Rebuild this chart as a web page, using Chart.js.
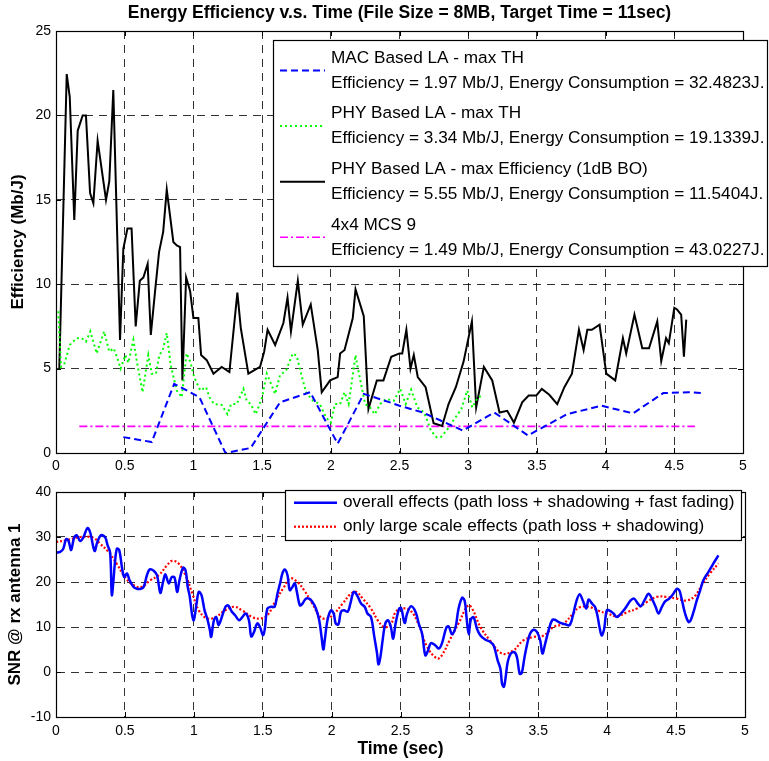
<!DOCTYPE html>
<html><head><meta charset="utf-8">
<script src="https://cdn.jsdelivr.net/npm/chart.js@4.4.0/dist/chart.umd.min.js"></script>
<style>
html,body{margin:0;padding:0;background:#fff;overflow:hidden;}
#w1{position:absolute;left:0;top:0;width:769px;height:476px;}
#w2{position:absolute;left:0;top:476px;width:769px;height:285px;}
</style></head><body>
<div id="w1"><canvas id="c1"></canvas></div>
<div id="w2"><canvas id="c2"></canvas></div>
<script>
// ---------- Top chart data ----------
const topTitle = 'Energy Efficiency v.s. Time (File Size = 8MB, Target Time = 11sec)';
const topYLabel = 'Efficiency (Mb/J)';
const xTicks = [0, 0.5, 1, 1.5, 2, 2.5, 3, 3.5, 4, 4.5, 5];
const topYTicks = [0, 5, 10, 15, 20, 25];

const macLabel = ['MAC Based LA - max TH', 'Efficiency = 1.97 Mb/J, Energy Consumption = 32.4823J.'];
const macT = [0.49, 0.697, 0.86, 1.044, 1.233, 1.417, 1.63, 1.85, 2.05, 2.24, 2.43, 2.5, 2.67, 2.96, 3.19, 3.435, 3.72, 3.97, 4.2, 4.42, 4.6, 4.70];
const macV = [0.94, 0.65, 4.1, 3.3, 0.0, 0.3, 3.0, 3.6, 0.55, 3.5, 3.0, 2.8, 2.4, 1.33, 2.4, 1.04, 2.3, 2.8, 2.35, 3.55, 3.6, 3.55];

const phyThLabel = ['PHY Based LA - max TH', 'Efficiency = 3.34 Mb/J, Energy Consumption = 19.1339J.'];
const phyThT = [0.017, 0.036, 0.06, 0.10, 0.15, 0.187, 0.218, 0.25, 0.296, 0.35, 0.388, 0.42, 0.447, 0.47, 0.505, 0.527, 0.563, 0.59, 0.63, 0.672, 0.697, 0.728, 0.752, 0.777, 0.806, 0.835, 0.879, 0.915, 0.95, 0.98, 1.005, 1.05, 1.092, 1.117, 1.15, 1.206, 1.248, 1.274, 1.316, 1.364, 1.388, 1.417, 1.454, 1.5, 1.534, 1.57, 1.595, 1.63, 1.675, 1.723, 1.752, 1.79, 1.82, 1.87, 1.92, 1.966, 2.0, 2.03, 2.068, 2.10, 2.13, 2.18, 2.20, 2.25, 2.286, 2.32, 2.36, 2.40, 2.46, 2.505, 2.545, 2.585, 2.63, 2.68, 2.73, 2.77, 2.80, 2.84, 2.89, 2.95, 2.993, 3.03, 3.07, 3.107];
const phyThV = [8.4, 5.1, 5.25, 6.4, 6.8, 6.8, 6.6, 7.2, 5.9, 7.2, 6.0, 6.2, 5.6, 5.0, 5.8, 5.35, 6.7, 5.35, 3.6, 5.8, 4.7, 4.7, 5.8, 6.1, 7.1, 5.2, 3.7, 3.3, 5.9, 5.35, 4.5, 3.7, 3.9, 3.3, 2.9, 2.85, 2.3, 2.9, 2.9, 3.8, 3.1, 2.9, 2.3, 3.3, 4.7, 4.0, 3.5, 4.6, 4.9, 5.9, 5.75, 4.5, 3.6, 3.1, 2.9, 2.1, 1.8, 2.9, 2.9, 3.6, 2.9, 5.8, 4.9, 2.9, 2.7, 2.3, 2.9, 3.2, 3.1, 3.8, 2.9, 3.75, 2.7, 2.4, 1.3, 0.94, 0.94, 1.3, 1.9, 2.6, 3.7, 2.7, 3.3, 3.4];

const phyEffLabel = ['PHY Based LA - max Efficiency (1dB BO)', 'Efficiency = 5.55 Mb/J, Energy Consumption = 11.5404J.'];
const phyEffT = [0.024, 0.078, 0.10, 0.133, 0.158, 0.194, 0.218, 0.248, 0.272, 0.303, 0.364, 0.388, 0.417, 0.466, 0.49, 0.52, 0.55, 0.58, 0.61, 0.636, 0.667, 0.69, 0.72, 0.75, 0.78, 0.806, 0.854, 0.879, 0.903, 0.92, 0.947, 0.976, 1.0, 1.036, 1.056, 1.097, 1.146, 1.206, 1.262, 1.32, 1.345, 1.40, 1.485, 1.515, 1.54, 1.595, 1.655, 1.685, 1.71, 1.76, 1.796, 1.854, 1.905, 1.934, 1.995, 2.05, 2.068, 2.10, 2.16, 2.18, 2.24, 2.274, 2.335, 2.383, 2.44, 2.5, 2.52, 2.55, 2.58, 2.604, 2.633, 2.69, 2.748, 2.81, 2.857, 2.91, 2.966, 3.027, 3.058, 3.114, 3.175, 3.228, 3.284, 3.333, 3.393, 3.44, 3.495, 3.536, 3.59, 3.648, 3.70, 3.755, 3.806, 3.84, 3.867, 3.90, 3.956, 4.005, 4.07, 4.126, 4.15, 4.21, 4.267, 4.316, 4.376, 4.405, 4.44, 4.46, 4.5, 4.52, 4.55, 4.57, 4.587];
const phyEffV = [5.0, 22.45, 21.1, 13.8, 19.1, 20.0, 20.0, 15.4, 14.8, 18.5, 15.0, 16.1, 21.5, 6.7, 12.1, 13.3, 13.3, 7.5, 10.2, 10.4, 11.2, 7.0, 9.5, 11.9, 13.1, 15.6, 12.5, 12.3, 12.2, 4.3, 10.4, 9.6, 8.0, 8.0, 5.8, 5.5, 4.7, 5.1, 4.8, 9.5, 7.4, 4.7, 5.1, 6.0, 7.3, 6.4, 7.7, 9.2, 7.2, 10.2, 7.6, 8.8, 6.1, 3.6, 4.3, 4.5, 5.9, 6.1, 8.0, 9.7, 8.1, 2.6, 4.3, 4.3, 5.7, 5.9, 5.9, 7.3, 5.0, 5.8, 4.5, 3.9, 1.76, 1.6, 2.9, 3.9, 5.4, 7.8, 2.7, 5.1, 4.3, 2.4, 2.5, 1.8, 3.0, 3.4, 3.4, 3.8, 3.45, 2.9, 3.9, 4.7, 7.3, 6.1, 7.3, 7.3, 7.6, 4.7, 4.3, 6.8, 5.9, 8.2, 6.2, 6.2, 7.8, 5.45, 6.8, 6.5, 8.6, 8.5, 8.2, 5.7, 7.9];

const mcsLabel = ['4x4 MCS 9', 'Efficiency = 1.49 Mb/J, Energy Consumption = 43.0227J.'];
const mcsT = [0.17, 4.65];
const mcsV = [1.58, 1.58];

// ---------- Bottom chart data ----------
const botXLabel = 'Time (sec)';
const botYLabel = 'SNR @ rx antenna 1';
const botYTicks = [-10, 0, 10, 20, 30, 40];
const overallLabel = 'overall effects (path loss + shadowing + fast fading)';
const overallT = [0, 0.03, 0.053, 0.073, 0.09, 0.11, 0.13, 0.15, 0.175, 0.2, 0.228, 0.248, 0.28, 0.30, 0.328, 0.357, 0.374, 0.393, 0.405, 0.417, 0.427, 0.442, 0.459, 0.478, 0.495, 0.515, 0.534, 0.563, 0.587, 0.617, 0.636, 0.66, 0.68, 0.709, 0.733, 0.757, 0.777, 0.794, 0.818, 0.84, 0.86, 0.879, 0.896, 0.922, 0.94, 0.956, 0.971, 0.988, 1.0, 1.02, 1.036, 1.056, 1.078, 1.097, 1.117, 1.126, 1.146, 1.163, 1.18, 1.20, 1.23, 1.25, 1.274, 1.30, 1.328, 1.352, 1.376, 1.40, 1.417, 1.437, 1.46, 1.48, 1.502, 1.514, 1.534, 1.563, 1.587, 1.607, 1.626, 1.643, 1.66, 1.68, 1.696, 1.716, 1.733, 1.748, 1.77, 1.789, 1.813, 1.837, 1.86, 1.886, 1.91, 1.927, 1.94, 1.95, 1.97, 1.995, 2.015, 2.03, 2.05, 2.068, 2.09, 2.117, 2.136, 2.16, 2.184, 2.214, 2.24, 2.26, 2.286, 2.31, 2.33, 2.34, 2.354, 2.37, 2.39, 2.41, 2.43, 2.447, 2.464, 2.49, 2.505, 2.53, 2.548, 2.577, 2.61, 2.633, 2.657, 2.68, 2.7, 2.72, 2.754, 2.778, 2.80, 2.833, 2.85, 2.874, 2.90, 2.92, 2.947, 2.966, 2.98, 2.995, 3.01, 3.03, 3.055, 3.08, 3.116, 3.15, 3.176, 3.205, 3.225, 3.237, 3.25, 3.26, 3.278, 3.30, 3.326, 3.345, 3.365, 3.38, 3.40, 3.42, 3.44, 3.466, 3.49, 3.514, 3.53, 3.55, 3.575, 3.60, 3.62, 3.66, 3.696, 3.727, 3.75, 3.775, 3.80, 3.823, 3.848, 3.865, 3.89, 3.913, 3.93, 3.944, 3.96, 3.978, 3.997, 4.02, 4.046, 4.07, 4.1, 4.13, 4.167, 4.195, 4.22, 4.244, 4.27, 4.30, 4.324, 4.35, 4.372, 4.396, 4.42, 4.45, 4.48, 4.505, 4.524, 4.54, 4.565, 4.59, 4.606, 4.626, 4.65, 4.674, 4.698, 4.734, 4.77, 4.807];
const overallV = [26.5, 26.7, 27.4, 29.5, 29.2, 27.1, 29.7, 30.4, 29.1, 30.0, 32.0, 31.0, 26.9, 28.9, 30.4, 29.9, 28.2, 26.5, 17.1, 20.4, 24.1, 27.4, 27.1, 23.4, 21.1, 21.9, 20.4, 18.9, 18.5, 18.5, 18.9, 21.5, 22.8, 22.5, 21.5, 17.6, 20.0, 21.7, 19.7, 21.1, 21.0, 17.8, 20.4, 23.2, 22.6, 18.9, 16.7, 12.6, 11.5, 15.2, 17.8, 17.1, 13.7, 11.9, 9.3, 7.8, 11.5, 12.2, 10.4, 11.9, 14.5, 14.8, 13.5, 12.6, 11.5, 12.2, 13.0, 11.5, 7.9, 8.9, 10.8, 10.0, 8.2, 9.3, 14.1, 14.5, 14.5, 17.4, 19.7, 21.9, 22.8, 21.5, 18.2, 18.9, 19.7, 17.8, 14.8, 15.2, 16.3, 16.3, 15.6, 14.1, 11.5, 7.8, 5.0, 7.0, 11.5, 13.7, 13.0, 10.8, 10.6, 13.4, 13.7, 13.4, 15.2, 17.8, 17.1, 15.2, 14.5, 13.0, 12.2, 7.8, 4.1, 1.7, 3.3, 7.0, 10.8, 11.5, 10.0, 7.4, 10.7, 14.1, 14.2, 10.9, 13.0, 14.6, 13.3, 10.7, 8.5, 3.7, 4.8, 6.4, 5.9, 5.2, 6.3, 9.9, 10.1, 8.4, 10.0, 13.9, 16.5, 15.8, 11.9, 8.4, 11.6, 12.2, 9.6, 8.1, 7.2, 6.7, 5.9, 2.6, 0.74, -2.6, -3.3, -1.85, 2.2, 4.1, 4.4, 3.3, -0.4, -0.2, 3.3, 6.3, 8.5, 9.4, 8.9, 7.0, 4.1, 6.3, 9.3, 11.5, 11.6, 10.9, 10.6, 10.4, 12.4, 15.6, 17.3, 15.9, 14.1, 16.1, 15.2, 14.4, 12.4, 10.0, 8.1, 9.6, 13.7, 13.6, 13.0, 12.2, 13.0, 14.1, 15.8, 16.3, 15.3, 14.6, 15.9, 17.4, 16.3, 14.6, 13.0, 14.4, 15.7, 16.3, 17.4, 18.5, 18.1, 16.3, 13.0, 11.1, 11.5, 13.3, 15.9, 18.1, 20.4, 22.2, 24.1, 25.9];
const largeLabel = 'only large scale effects (path loss + shadowing)';
const largeT = [0, 0.078, 0.175, 0.27, 0.32, 0.38, 0.44, 0.50, 0.563, 0.62, 0.685, 0.745, 0.806, 0.842, 0.89, 0.94, 0.99, 1.036, 1.097, 1.158, 1.218, 1.29, 1.35, 1.425, 1.485, 1.534, 1.595, 1.655, 1.70, 1.752, 1.80, 1.86, 1.92, 1.97, 2.02, 2.08, 2.14, 2.18, 2.226, 2.286, 2.335, 2.383, 2.43, 2.464, 2.51, 2.57, 2.63, 2.693, 2.766, 2.80, 2.862, 2.92, 2.99, 3.02, 3.08, 3.15, 3.237, 3.32, 3.39, 3.466, 3.54, 3.61, 3.68, 3.756, 3.80, 3.877, 3.937, 4.0, 4.07, 4.145, 4.215, 4.29, 4.36, 4.43, 4.505, 4.577, 4.64, 4.686, 4.746, 4.807];
const largeV = [28.9, 29.3, 30.0, 29.8, 28.5, 26.7, 24.1, 21.1, 19.3, 18.9, 20.4, 21.5, 23.7, 24.7, 24.1, 21.5, 17.4, 13.7, 11.9, 12.2, 13.5, 14.5, 13.7, 12.2, 11.9, 12.6, 15.9, 18.9, 20.8, 20.0, 18.2, 15.2, 12.2, 11.9, 13.0, 15.2, 17.4, 17.8, 16.3, 14.1, 11.5, 10.0, 10.6, 13.3, 14.1, 13.7, 10.7, 5.6, 3.0, 3.7, 7.4, 10.7, 14.8, 14.1, 10.0, 7.0, 4.1, 4.8, 7.0, 7.8, 8.1, 10.0, 10.7, 13.1, 14.4, 14.4, 13.6, 13.0, 12.4, 13.3, 14.1, 15.6, 16.7, 16.7, 16.3, 15.9, 17.0, 19.3, 21.9, 24.1];

// ---------- helpers ----------
const FONT = "'Liberation Sans', Arial, Helvetica, sans-serif";
const zip = (t, v) => t.map((x, i) => ({x: x, y: v[i]}));
const fmt = v => String(v);

function boxTicksPlugin(id) {
  return {
    id: id,
    afterDatasetsDraw(chart) {
      const {ctx, chartArea: a, scales: {x, y}} = chart;
      ctx.save();
      ctx.strokeStyle = '#000';
      ctx.lineWidth = 1;
      ctx.setLineDash([]);
      ctx.beginPath();
      x.ticks.forEach(t => {
        const px = Math.round(x.getPixelForValue(t.value)) + 0.5;
        ctx.moveTo(px, a.bottom); ctx.lineTo(px, a.bottom - 5);
        ctx.moveTo(px, a.top); ctx.lineTo(px, a.top + 5);
      });
      y.ticks.forEach(t => {
        const py = Math.round(y.getPixelForValue(t.value)) + 0.5;
        ctx.moveTo(a.left, py); ctx.lineTo(a.left + 5, py);
        ctx.moveTo(a.right, py); ctx.lineTo(a.right - 5, py);
      });
      ctx.stroke();
      ctx.lineWidth = 1.2;
      ctx.strokeRect(Math.round(a.left) + 0.5, Math.round(a.top) + 0.5, Math.round(a.right - a.left), Math.round(a.bottom - a.top));
      ctx.restore();
    }
  };
}

function titlePlugin(id, text, y) {
  return {
    id: id,
    afterDraw(chart) {
      const {ctx, chartArea: a} = chart;
      ctx.save();
      ctx.font = 'bold 17.5px ' + FONT;
      ctx.fillStyle = '#000';
      ctx.textAlign = 'center';
      ctx.textBaseline = 'middle';
      ctx.fillText(text, (a.left + a.right) / 2, y);
      ctx.restore();
    }
  };
}

function legendPlugin(id, box, opts) {
  return {
    id: id,
    afterDraw(chart) {
      const ctx = chart.ctx;
      ctx.save();
      ctx.fillStyle = '#fff';
      ctx.fillRect(box.x, box.y, box.w, box.h);
      ctx.strokeStyle = '#000';
      ctx.lineWidth = 1.2;
      ctx.setLineDash([]);
      ctx.strokeRect(box.x + 0.5, box.y + 0.5, box.w, box.h);
      ctx.font = opts.font;
      ctx.textBaseline = 'middle';
      ctx.textAlign = 'left';
      chart.data.datasets.forEach((ds, i) => {
        const lines = Array.isArray(ds.label) ? ds.label : [ds.label];
        const y0 = opts.firstY + i * opts.step;
        const ly = lines.length > 1 ? y0 + opts.lineGap / 2 : y0;
        ctx.save();
        ctx.strokeStyle = ds.borderColor;
        ctx.lineWidth = ds.borderWidth;
        ctx.setLineDash(ds.borderDash || []);
        ctx.beginPath();
        ctx.moveTo(opts.sx0, ly); ctx.lineTo(opts.sx1, ly);
        ctx.stroke();
        ctx.restore();
        ctx.fillStyle = '#000';
        lines.forEach((ln, k) => ctx.fillText(ln, opts.tx, y0 + k * opts.lineGap));
      });
      ctx.restore();
    }
  };
}

const gridCommon = {
  color: '#000', lineWidth: 0.8, drawTicks: false
};
const borderCommon = {display: true, color: '#000', width: 1, dash: [8, 6]};

// ---------- Top chart ----------
new Chart(document.getElementById('c1'), {
  type: 'line',
  data: {
    datasets: [
      {label: macLabel, data: zip(macT, macV), borderColor: '#0000ff', borderWidth: 2, borderDash: [7, 4], pointRadius: 0, tension: 0, fill: false},
      {label: phyThLabel, data: zip(phyThT, phyThV), borderColor: '#00ff00', borderWidth: 2, borderDash: [2, 3], pointRadius: 0, tension: 0, fill: false},
      {label: phyEffLabel, data: zip(phyEffT, phyEffV), borderColor: '#000000', borderWidth: 2, pointRadius: 0, tension: 0, fill: false},
      {label: mcsLabel, data: zip(mcsT, mcsV), borderColor: '#ff00ff', borderWidth: 1.6, borderDash: [8, 3, 2, 3], pointRadius: 0, tension: 0, fill: false}
    ]
  },
  options: {
    responsive: true, maintainAspectRatio: false, animation: false,
    layout: {padding: {left: 0, right: 26, top: 31, bottom: 0}},
    plugins: {legend: {display: false}, tooltip: {enabled: false}, title: {display: false}},
    scales: {
      x: {
        type: 'linear', min: 0, max: 5,
        afterBuildTicks: s => { s.ticks = xTicks.map(v => ({value: v})); },
        afterFit: s => { s.height = 476 - 453; },
        grid: gridCommon, border: borderCommon,
        ticks: {color: '#000', font: {family: FONT, size: 14}, padding: 5, maxRotation: 0, callback: v => fmt(v)}
      },
      y: {
        min: 0, max: 25,
        afterBuildTicks: s => { s.ticks = topYTicks.map(v => ({value: v})); },
        afterFit: s => { s.width = 56; },
        grid: gridCommon, border: borderCommon,
        ticks: {color: '#000', font: {family: FONT, size: 14}, padding: 5, callback: v => fmt(v)},
        title: {display: true, text: topYLabel, color: '#000', font: {family: FONT, size: 17, weight: 'bold'}, padding: {top: 8}}
      }
    }
  },
  plugins: [boxTicksPlugin('bt1'), titlePlugin('tt1', topTitle, 13.5), legendPlugin('lg1', {x: 273, y: 40, w: 494, h: 226},
    {font: '17.2px ' + FONT, firstY: 58, step: 55.6, lineGap: 25, sx0: 280, sx1: 325, tx: 331})]
});

// ---------- Bottom chart ----------
new Chart(document.getElementById('c2'), {
  type: 'line',
  data: {
    datasets: [
      {label: overallLabel, data: zip(overallT, overallV), borderColor: '#0000ff', borderWidth: 2.5, pointRadius: 0, tension: 0.35, fill: false},
      {label: largeLabel, data: zip(largeT, largeV), borderColor: '#ff0000', borderWidth: 2.2, borderDash: [2, 2], pointRadius: 0, tension: 0.4, fill: false}
    ]
  },
  options: {
    responsive: true, maintainAspectRatio: false, animation: false,
    layout: {padding: {left: 0, right: 24, top: 16, bottom: 0}},
    plugins: {legend: {display: false}, tooltip: {enabled: false}, title: {display: false}},
    scales: {
      x: {
        type: 'linear', min: 0, max: 5,
        afterBuildTicks: s => { s.ticks = xTicks.map(v => ({value: v})); },
        afterFit: s => { s.height = 285 - 241; },
        grid: gridCommon, border: borderCommon,
        ticks: {color: '#000', font: {family: FONT, size: 14}, padding: 6, maxRotation: 0, callback: v => fmt(v)},
        title: {display: true, text: botXLabel, color: '#000', font: {family: FONT, size: 17.5, weight: 'bold'}, padding: {top: 0, bottom: 1.5}}
      },
      y: {
        min: -10, max: 40,
        afterBuildTicks: s => { s.ticks = botYTicks.map(v => ({value: v})); },
        afterFit: s => { s.width = 56; },
        grid: gridCommon, border: borderCommon,
        ticks: {color: '#000', font: {family: FONT, size: 14}, padding: 5, callback: v => fmt(v)},
        title: {display: true, text: botYLabel, color: '#000', font: {family: FONT, size: 17, weight: 'bold'}, padding: {top: 5}}
      }
    }
  },
  plugins: [boxTicksPlugin('bt2'), legendPlugin('lg2', {x: 285, y: 14, w: 456, h: 50},
    {font: '17.2px ' + FONT, firstY: 26.7, step: 24, lineGap: 0, sx0: 294, sx1: 337, tx: 343})]
});
</script>
</body></html>
